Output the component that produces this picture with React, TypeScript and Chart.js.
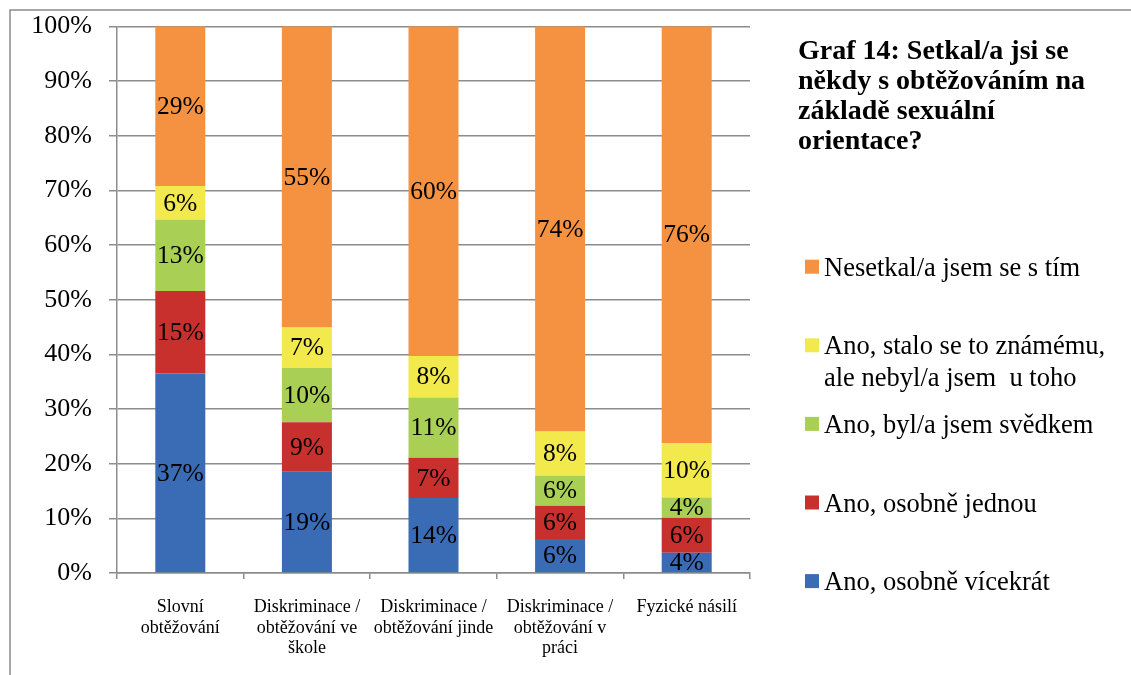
import React, { useEffect, useRef } from 'react';
import { Chart, registerables } from 'chart.js';

Chart.register(...registerables);

const categories: string[][] = [
  ['Slovní', 'obtěžování'],
  ['Diskriminace /', 'obtěžování ve', 'škole'],
  ['Diskriminace /', 'obtěžování jinde'],
  ['Diskriminace /', 'obtěžování v', 'práci'],
  ['Fyzické násilí'],
];

const seriesNames = [
  'Ano, osobně vícekrát',
  'Ano, osobně jednou',
  'Ano, byl/a jsem svědkem',
  'Ano, stalo se to známému,\nale nebyl/a jsem  u toho',
  'Nesetkal/a jsem se s tím',
];
const seriesColors = ['#3A6BB5', '#C8302E', '#A9D055', '#F2E94C', '#F59241'];

const osobneVicekrat = [36.5, 18.5, 13.7, 6.2, 3.7];
const osobneJednou = [15.1, 9.1, 7.4, 6.1, 6.4];
const bylSvedkem = [13.0, 9.9, 11.0, 5.5, 3.7];
const staloSeZnamemu = [6.2, 7.4, 7.6, 8.1, 10.0];
const nesetkal = [29.2, 55.1, 60.3, 74.1, 76.2];

const titleLines = [
  'Graf 14: Setkal/a jsi se',
  'někdy s obtěžováním na',
  'základě sexuální',
  'orientace?',
];

const SERIF = '"Liberation Serif", "Times New Roman", serif';
const GRID = '#8c8c8c';

const decorPlugin = {
  id: 'decor',
  beforeDraw(chart: any) {
    const ctx = chart.ctx;
    ctx.save();
    ctx.strokeStyle = GRID;
    ctx.lineWidth = 1.5;
    ctx.beginPath();
    ctx.moveTo(10, chart.height);
    ctx.lineTo(10, 10);
    ctx.lineTo(chart.width, 10);
    ctx.stroke();
    ctx.restore();
  },
  afterDatasetsDraw(chart: any) {
    const ctx = chart.ctx;
    ctx.save();
    ctx.fillStyle = '#000';
    ctx.font = `25.5px ${SERIF}`;
    ctx.textAlign = 'center';
    ctx.textBaseline = 'middle';
    chart.data.datasets.forEach((ds: any, di: number) => {
      const meta = chart.getDatasetMeta(di);
      meta.data.forEach((el: any, i: number) => {
        const v = ds.data[i];
        const cy = (el.y + el.base) / 2;
        ctx.fillText(Math.round(v) + '%', el.x, cy + 1);
      });
    });
    ctx.restore();
  },
  afterDraw(chart: any) {
    const ctx = chart.ctx;
    ctx.save();
    ctx.fillStyle = '#000';
    ctx.textAlign = 'left';
    ctx.textBaseline = 'alphabetic';
    ctx.font = `bold 28px ${SERIF}`;
    titleLines.forEach((t, i) => ctx.fillText(t, 798, 58.5 + i * 30));

    ctx.font = `26.5px ${SERIF}`;
    const ds = chart.data.datasets;
    const order = ds.map((_: any, i: number) => i).reverse();
    order.forEach((di: number, k: number) => {
      const base = 275.7 + k * 78.6;
      ctx.fillStyle = ds[di].backgroundColor;
      ctx.fillRect(805, base - 16, 14, 14);
      ctx.fillStyle = '#000';
      String(ds[di].label)
        .split('\n')
        .forEach((line: string, li: number) => ctx.fillText(line, 824, base + li * 31.7));
    });
    ctx.restore();
  },
};

export default function App() {
  const ref = useRef<HTMLCanvasElement>(null);

  useEffect(() => {
    if (!ref.current) return;
    const values = [osobneVicekrat, osobneJednou, bylSvedkem, staloSeZnamemu, nesetkal];
    const chart = new Chart(ref.current, {
      type: 'bar',
      data: {
        labels: categories,
        datasets: values.map((d, i) => ({
          label: seriesNames[i],
          data: d,
          backgroundColor: seriesColors[i],
          borderWidth: 0,
          categoryPercentage: 1,
          barPercentage: 0.395,
        })),
      },
      options: {
        responsive: false,
        animation: false,
        devicePixelRatio: 1,
        layout: { padding: { left: 0, top: 26, right: 381, bottom: 0 } },
        plugins: {
          legend: { display: false },
          title: { display: false },
          tooltip: { enabled: false },
        },
        scales: {
          x: {
            stacked: true,
            grid: {
              display: true,
              drawOnChartArea: false,
              drawTicks: true,
              tickLength: 6,
              color: GRID,
              lineWidth: 1.5,
            },
            border: { color: GRID, width: 1.5 },
            ticks: {
              color: '#000',
              font: { family: SERIF, size: 18, lineHeight: 1.15 },
              padding: 18,
              maxRotation: 0,
              autoSkip: false,
            },
            afterFit: (s: any) => {
              s.height = 102;
            },
          },
          y: {
            stacked: true,
            min: 0,
            max: 100,
            grid: { color: GRID, lineWidth: 1.5, tickLength: 8 },
            border: { color: GRID, width: 1.5 },
            ticks: {
              stepSize: 10,
              color: '#000',
              font: { family: SERIF, size: 26, lineHeight: 0.72 },
              padding: 17,
              callback: (v: any) => v + '%',
            },
            afterFit: (s: any) => {
              s.width = 117;
            },
          },
        },
      },
      plugins: [decorPlugin],
    });
    return () => chart.destroy();
  }, []);

  return (
    <div style={{ position: 'absolute', left: 0, top: 0, width: 1131, height: 675 }}>
      <canvas ref={ref} width={1131} height={675} style={{ display: 'block' }} />
    </div>
  );
}
